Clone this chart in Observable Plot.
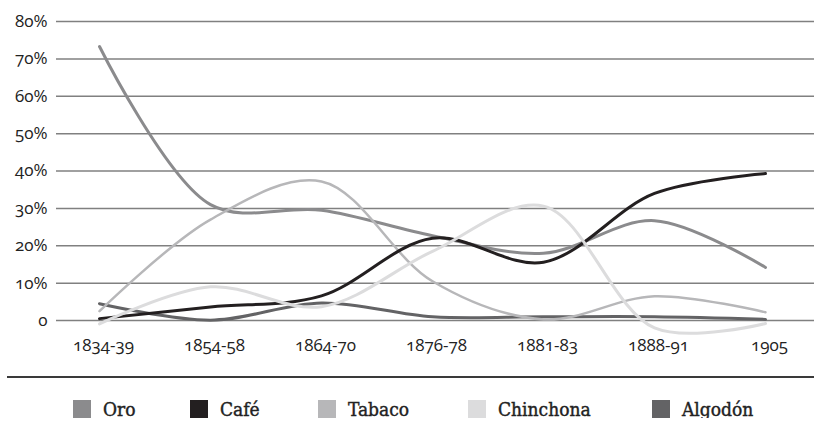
<!DOCTYPE html>
<html>
<head>
<meta charset="utf-8">
<script src="https://cdn.jsdelivr.net/npm/d3@7"></script>
<script src="https://cdn.jsdelivr.net/npm/@observablehq/plot@0.6"></script>
<style>
  html, body { margin: 0; padding: 0; background: #fff; }
  #wrap { width: 814px; position: relative; }
  #wrap svg text { font-variant-numeric: oldstyle-nums; }
  #rule { margin-left: 7px; width: 807px; height: 2px; background: #3a3a3a; margin-top: 11px; }
  #legend { position: relative; height: 40px; margin-top: 0; font-family: "DejaVu Serif Condensed", "DejaVu Serif", serif; font-size: 19px; color: #222; -webkit-text-stroke: 0.4px #222; }
  .item { position: absolute; top: 20px; display: flex; align-items: center; }
  .sw { width: 18px; height: 18px; margin-right: 12px; }
</style>
</head>
<body>
<div id="wrap"></div>
<script>
const periodos = ["1834-39", "1854-58", "1864-70", "1876-78", "1881-83", "1888-91", "1905"];
const series = ["Oro", "Café", "Tabaco", "Chinchona", "Algodón"];
const oro       = [73.3, 31.0, 29.5, 22.7, 18.0, 26.7, 14.2];
const cafe      = [0.5, 3.6, 6.6, 22.0, 15.6, 34.0, 39.3];
const tabaco    = [2.5, 27.0, 37.2, 10.5, 0.3, 6.5, 2.2];
const chinchona = [-0.9, 9.0, 3.7, 18.5, 30.6, -2.0, -0.8];
const algodon   = [4.5, 0.1, 4.7, 1.0, 1.0, 1.0, 0.3];
const yTicks = [0, 10, 20, 30, 40, 50, 60, 70, 80];

const colores = ["#8b8b8d", "#231f20", "#b7b7b9", "#dcdcdd", "#636365"];
const valores = [oro, cafe, tabaco, chinchona, algodon];

const data = [];
series.forEach((s, i) => periodos.forEach((p, j) => data.push({serie: s, periodo: p, valor: valores[i][j]})));

const drawOrder = ["Algodón", "Oro", "Tabaco", "Café", "Chinchona"];
const widths = {"Oro": 3, "Café": 3, "Tabaco": 2.5, "Chinchona": 3, "Algodón": 3};

const chart = Plot.plot({
  width: 814,
  height: 365,
  marginLeft: 56,
  marginRight: 0,
  marginTop: 21,
  marginBottom: 45,
  style: {fontFamily: "'Open Sans', sans-serif", fontSize: "17px", color: "#222"},
  x: {type: "point", domain: periodos, range: [97, 766], padding: 0, label: null},
  y: {domain: [0, 80], label: null},
  color: {domain: series, range: colores},
  marks: [
    Plot.ruleY(yTicks, {stroke: "#808080", strokeWidth: 1.5}),
    Plot.axisY({ticks: yTicks, tickSize: 0, tickPadding: 9, fontSize: 17, label: null, tickFormat: d => d === 0 ? "0" : d + "%"}),
    Plot.axisX({tickSize: 0, tickPadding: 18, fontSize: 17, label: null, dx: 4}),
    ...drawOrder.map(s => Plot.line(data.filter(d => d.serie === s), {
      x: "periodo", y: "valor", stroke: "serie", strokeWidth: widths[s], curve: "catmull-rom"
    }))
  ]
});

const wrap = document.getElementById("wrap");
wrap.appendChild(chart);
const rule = document.createElement("div");
rule.id = "rule";
wrap.appendChild(rule);
const legend = document.createElement("div");
legend.id = "legend";
const lefts = [73, 190, 318, 468, 652];
series.forEach((s, i) => {
  const it = document.createElement("div");
  it.className = "item";
  it.style.left = lefts[i] + "px";
  const sw = document.createElement("div");
  sw.className = "sw";
  sw.style.background = colores[i];
  const t = document.createElement("span");
  t.textContent = s;
  it.appendChild(sw);
  it.appendChild(t);
  legend.appendChild(it);
});
wrap.appendChild(legend);
</script>
</body>
</html>
